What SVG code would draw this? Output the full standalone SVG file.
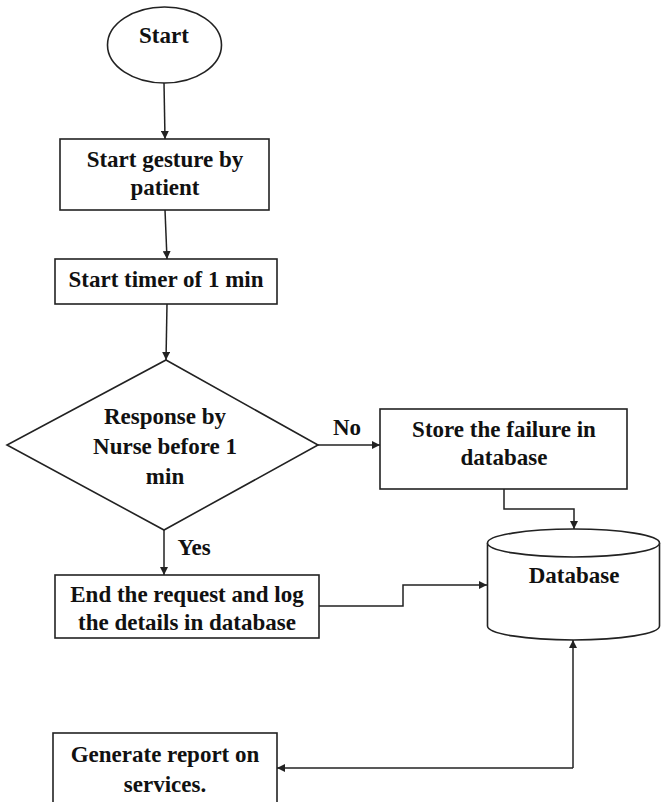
<svg xmlns="http://www.w3.org/2000/svg" width="661" height="802" viewBox="0 0 661 802">
<defs>
<style>
.s{fill:#fff;stroke:#222;stroke-width:1.6}
.t{font-family:"Liberation Serif","Times New Roman",serif;font-weight:bold;font-size:23px;fill:#111;text-anchor:middle}
.c{fill:none;stroke:#222;stroke-width:1.5}
</style>
<marker id="a" viewBox="0 0 10 10" refX="10" refY="5" markerWidth="8" markerHeight="8" markerUnits="userSpaceOnUse" orient="auto">
<path d="M0,0 L10,5 L0,10 z" fill="#222"/>
</marker>
</defs>
<rect width="661" height="802" fill="#fff"/>
<g id="connectors">
<line class="c" x1="164" y1="83" x2="165" y2="139" marker-end="url(#a)"/>
<line class="c" x1="165" y1="210" x2="167" y2="259" marker-end="url(#a)"/>
<line class="c" x1="167" y1="304" x2="166" y2="360" marker-end="url(#a)"/>
<line class="c" x1="318" y1="445" x2="380" y2="445" marker-end="url(#a)"/>
<line class="c" x1="164" y1="530" x2="164" y2="575" marker-end="url(#a)"/>
<polyline class="c" points="504,489 504,509 574,509 574,529" marker-end="url(#a)"/>
<polyline class="c" points="319,606 403,606 403,585 487,585" marker-end="url(#a)"/>
<polyline class="c" points="573,768 573,640" marker-end="url(#a)"/>
<line class="c" x1="573" y1="768" x2="277" y2="768" marker-end="url(#a)"/>
<text class="t" x="347" y="435">No</text>
<text class="t" x="194" y="555">Yes</text>
</g>
<g id="start">
<ellipse class="s" cx="164.5" cy="45" rx="57" ry="38"/>
<text class="t" x="164" y="43">Start</text>
</g>
<g id="gesture">
<rect class="s" x="60" y="139" width="209" height="71"/>
<text class="t" x="165" y="167">Start gesture by</text>
<text class="t" x="165" y="195">patient</text>
</g>
<g id="timer">
<rect class="s" x="55" y="259" width="222" height="45"/>
<text class="t" x="166" y="287">Start timer of 1 min</text>
</g>
<g id="decision">
<polygon class="s" points="166,360 318,445 164,530 7,445"/>
<text class="t" x="165" y="424">Response by</text>
<text class="t" x="165" y="454">Nurse before 1</text>
<text class="t" x="165" y="484">min</text>
</g>
<g id="store">
<rect class="s" x="380" y="409" width="247" height="80"/>
<text class="t" x="504" y="437">Store the failure in</text>
<text class="t" x="504" y="465">database</text>
</g>
<g id="database">
<path class="s" d="M487.5,543 L487.5,626 A86,14 0 0 0 659.5,626 L659.5,543"/>
<ellipse class="s" cx="573.5" cy="543" rx="86" ry="14"/>
<text class="t" x="574" y="583">Database</text>
</g>
<g id="end">
<rect class="s" x="55" y="575" width="264" height="63"/>
<text class="t" x="187" y="602">End the request and log</text>
<text class="t" x="187" y="630">the details in database</text>
</g>
<g id="report">
<rect class="s" x="53" y="733" width="224" height="80"/>
<text class="t" x="165" y="762">Generate report on</text>
<text class="t" x="165" y="792">services.</text>
</g>
</svg>
